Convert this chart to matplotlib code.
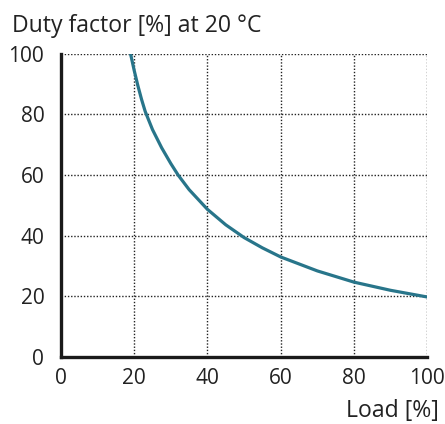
import matplotlib
matplotlib.use("Agg")
import matplotlib.pyplot as plt

load = [19, 20, 21, 22, 23, 25, 27.5, 30, 32, 35, 40, 45, 50, 55, 60, 70, 80, 90, 100]
duty = [100, 94.5, 89.5, 85, 81, 75, 69, 63.8, 60, 55.2, 48.7, 43.6, 39.4, 36, 33, 28.4, 24.7, 22, 19.8]
xticks = [0, 20, 40, 60, 80, 100]
yticks = [0, 20, 40, 60, 80, 100]

plt.rcParams['font.family'] = ['Open Sans', 'DejaVu Sans']
fig = plt.figure(figsize=(4.45, 4.24), dpi=100)
ax = fig.add_axes([0.137, 0.158, 0.823, 0.715])
ax.plot(load, duty, color='#28758a', lw=2.3, solid_capstyle='butt', solid_joinstyle='round', zorder=3)
ax.set_xlim(0, 100)
ax.set_ylim(0, 100)
ax.set_xticks(xticks)
ax.set_yticks(yticks)
ax.tick_params(length=0, labelsize=15, colors='#222222', pad=8)
ax.tick_params(axis='y', pad=12)
ax.grid(True, color='#222222', linestyle=(0, (1, 1.3)), linewidth=1.0)
for s in ['top', 'right']:
    ax.spines[s].set_visible(False)
for s in ['left', 'bottom']:
    ax.spines[s].set_linewidth(2.4)
    ax.spines[s].set_color('#1a1a1a')
    ax.spines[s].set_zorder(4)
fig.text(0.027, 0.925, 'Duty factor [%] at 20 °C', fontsize=16.6, color='#222222', ha='left', va='baseline')
fig.text(0.987, 0.017, 'Load [%]', fontsize=16.6, color='#222222', ha='right', va='baseline')
fig.savefig('out.png', dpi=100)
